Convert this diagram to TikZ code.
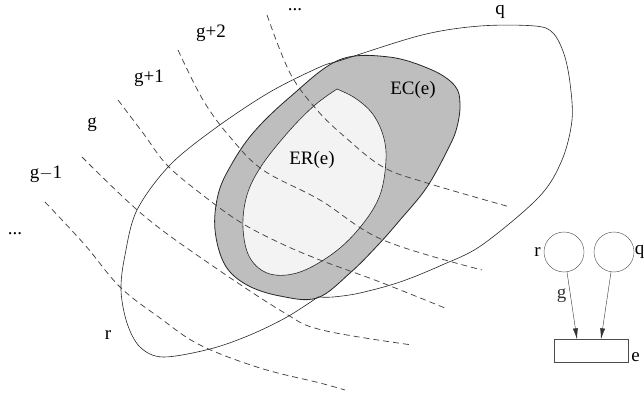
\documentclass[tikz,border=0pt]{standalone}
\usepackage{fontspec}
\setmainfont{Liberation Serif}
\usepackage{tikz}
\usetikzlibrary{arrows.meta,positioning,calc}
\definecolor{bandgrey}{HTML}{BEBEBE}
\definecolor{coregrey}{HTML}{F3F3F3}
\definecolor{dashgrey}{HTML}{444444}
\tikzset{level/.style={draw=dashgrey,line width=.75pt,dash pattern=on 6pt off 4pt},
  region/.style={draw=black!85,line width=.6pt},
  lbl/.style={inner sep=1pt},
  vertex/.style={draw=black!70,circle,minimum size=40pt,inner sep=0pt},
  edgebox/.style={draw=black!70,minimum width=74pt,minimum height=23pt,inner sep=0pt},
  every picture/.style={>={Latex[length=11pt,width=5pt]}}}

\begin{document}
\begin{tikzpicture}[x=1pt,y=-1pt,font=\fontsize{19}{22}\selectfont]
  \useasboundingbox (0,0) rectangle (644,395);
  % EC(e) band and ER(e) core
  \fill[bandgrey] plot[smooth cycle,tension=.6] coordinates {(339,60) (389,57) (432,70) (455,86) (460,104) (457,127) (449,147) (427,187) (400,220) (378,245) (350,273) (317,298) (280,296) (247,285) (225,265) (215,230) (218,195) (230,167) (253,133) (290,97)};
  \fill[coregrey] (337,89) plot[smooth,tension=.6] coordinates {(337,89) (355,98) (372,113) (383,135) (386,160) (380,195) (362,225) (335,252) (300,272) (270,274) (250,258) (243,228) (247,195) (262,165) (290,130) (315,105) (337,89)} -- cycle;
  % level lines
  \draw[level] plot[smooth,tension=.6] coordinates {(45,202) (85,245) (120,287) (160,318) (200,345) (260,368) (320,383) (345,390)};
  \draw[level] plot[smooth,tension=.6] coordinates {(82,157) (143,215) (207,262) (283,312) (322,330) (412,345)};
  \draw[level] plot[smooth,tension=.6] coordinates {(118,100) (143,133) (167,165) (200,193) (240,222) (280,243) (320,260) (380,282) (445,308)};
  \draw[level] plot[smooth,tension=.6] coordinates {(178,50) (203,100) (230,137) (263,170) (320,200) (383,240) (482,270)};
  \draw[level] plot[smooth,tension=.6] coordinates {(267,15) (290,73) (317,110) (345,137) (383,167) (427,183) (510,207)};
  % outlines of r and q, then EC(e) and ER(e)
  \draw[region] (318,297) plot[smooth,tension=.55] coordinates {(318,297) (287,317) (250,335) (210,349) (163,357) (140,347) (127,323) (121,290) (125,255) (137,210) (170,165) (217,127) (270,92) (320,67) (342,60) (422,35) (480,26) (535,26) (553,33) (564,54) (570,83) (572,120) (562,160) (539,197) (482,245) (442,265) (400,282) (360,293) (333,297) (318,297)};
  \draw[region,line width=.8pt] plot[smooth cycle,tension=.6] coordinates {(339,60) (389,57) (432,70) (455,86) (460,104) (457,127) (449,147) (427,187) (400,220) (378,245) (350,273) (317,298) (280,296) (247,285) (225,265) (215,230) (218,195) (230,167) (253,133) (290,97)};
  \draw[region] (337,89) plot[smooth,tension=.6] coordinates {(337,89) (355,98) (372,113) (383,135) (386,160) (380,195) (362,225) (335,252) (300,272) (270,274) (250,258) (243,228) (247,195) (262,165) (290,130) (315,105) (337,89)};
  % labels
  \node[inner sep=0pt,text height=3pt,text depth=0pt,anchor=base] (lvlA) at (295,11) {...};
  \node[lbl] (lvlB) at (211,33) {g+2};
  \node[lbl] (lvlC) at (149,78) {g+1};
  \node[lbl] (lvlD) at (92,125) {g};
  \node[lbl] (lvlE) at (46,174) {g$-$1};
  \node[inner sep=0pt,text height=3pt,text depth=0pt,anchor=base] (lvlF) at (15,234) {...};
  \node[lbl] (qlbl) at (500,12) {q};
  \node[lbl] (rlbl) at (108,335) {r};
  \node[lbl] (eclbl) at (413,90) {EC(e)};
  \node[lbl] (erlbl) at (312,160) {ER(e)};
  % small graph
  \node[vertex] (rnode) at (564,252) {};
  \node[vertex] (qnode) at (614,252) {};
  \node[edgebox] (enode) at (591,351) {};
  \node[lbl,left=2pt of rnode] (rname) {r};
  \node[inner sep=0pt,right=.5pt of qnode] (qname) {q};
  \node[lbl,right=2pt of enode.south east,anchor=south west] (ename) {e};
  \draw[->,black!80] (rnode) -- node[lbl,left=3pt,pos=.35] (gname) {g} ($(enode.north)+(-14,0)$);
  \draw[->,black!80] (qnode) -- ($(enode.north)+(10,0)$);
\end{tikzpicture}
\end{document}
